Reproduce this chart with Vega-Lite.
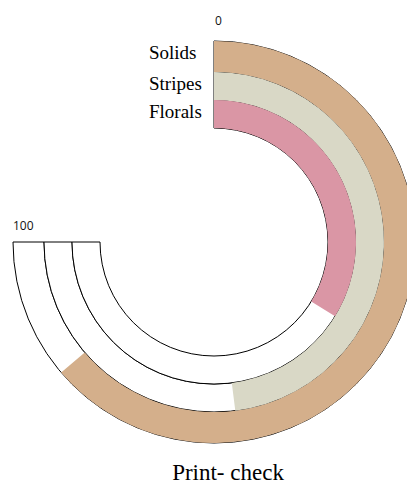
{
  "$schema": "https://vega.github.io/schema/vega-lite/v6.json",
  "width": 386,
  "height": 440,
  "autosize": "none",
  "padding": {"left": 21, "top": 22, "right": 0, "bottom": 21},
  "background": "white",
  "config": {"view": {"stroke": null}},
  "title": {"text": "Print- check", "orient": "bottom", "font": "Liberation Serif", "fontSize": 23, "fontWeight": "normal", "color": "#000", "dx": 14, "offset": 0},
  "datasets": {
    "rings": [
      {"category": "Solids", "value": 85, "outer": 3, "inner": 2},
      {"category": "Stripes", "value": 64, "outer": 2, "inner": 1},
      {"category": "Florals", "value": 45, "outer": 1, "inner": 0}
    ],
    "ticks": [{"v": 0}, {"v": 100}]
  },
  "data": {"name": "rings"},
  "layer": [
    {
      "mark": {"type": "arc", "fill": "white", "stroke": "black", "strokeWidth": 1},
      "encoding": {
        "theta": {"datum": 100, "type": "quantitative", "stack": null, "scale": {"domain": [0, 100], "range": [0, 4.71238898]}},
        "theta2": {"datum": 0},
        "radius": {"field": "outer", "type": "quantitative", "scale": {"type": "linear", "zero": false, "domain": [0, 1, 2, 3], "range": [114, 142, 170, 201]}},
        "radius2": {"field": "inner"}
      }
    },
    {
      "mark": {"type": "arc", "strokeWidth": 0},
      "encoding": {
        "theta": {"field": "value", "type": "quantitative", "stack": null, "scale": {"domain": [0, 100], "range": [0, 4.71238898]}},
        "theta2": {"datum": 0},
        "radius": {"field": "outer", "type": "quantitative", "scale": {"type": "linear", "zero": false, "domain": [0, 1, 2, 3], "range": [114, 142, 170, 201]}},
        "radius2": {"field": "inner"},
        "color": {"field": "category", "type": "nominal", "scale": {"domain": ["Solids", "Stripes", "Florals"], "range": ["#D4AF8B", "#D9D8C6", "#DA96A5"]}, "legend": null}
      }
    },
    {
      "mark": {"type": "text", "align": "left", "baseline": "alphabetic", "dx": -65, "dy": 18, "font": "Liberation Serif", "fontSize": 19, "color": "#000"},
      "encoding": {
        "theta": {"datum": 0, "type": "quantitative", "stack": null},
        "radius": {"field": "outer", "type": "quantitative"},
        "text": {"field": "category", "type": "nominal"}
      }
    },
    {
      "data": {"name": "ticks"},
      "transform": [{"filter": "datum.v == 0"}],
      "mark": {"type": "text", "align": "left", "baseline": "alphabetic", "dx": 1, "dy": -16, "font": "Open Sans", "fontSize": 12, "color": "#111"},
      "encoding": {
        "theta": {"field": "v", "type": "quantitative", "stack": null},
        "radius": {"datum": 3, "type": "quantitative"},
        "text": {"field": "v", "type": "nominal"}
      }
    },
    {
      "data": {"name": "ticks"},
      "transform": [{"filter": "datum.v == 100"}],
      "mark": {"type": "text", "align": "left", "baseline": "alphabetic", "dx": 0, "dy": -12, "font": "Open Sans", "fontSize": 12, "color": "#111"},
      "encoding": {
        "theta": {"field": "v", "type": "quantitative", "stack": null},
        "radius": {"datum": 3, "type": "quantitative"},
        "text": {"field": "v", "type": "nominal"}
      }
    }
  ]
}
